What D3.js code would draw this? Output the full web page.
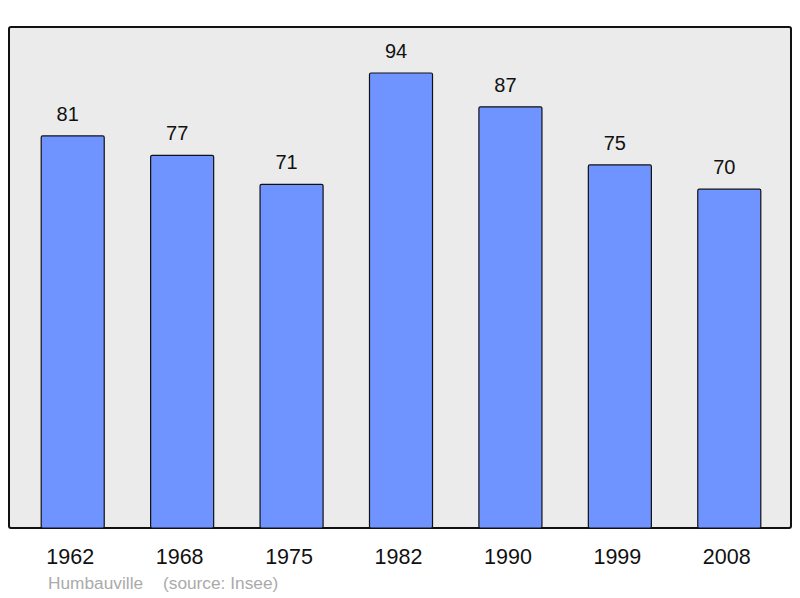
<!DOCTYPE html>
<html>
<head>
<meta charset="utf-8">
<script src="https://cdn.jsdelivr.net/npm/d3@7"></script>
<style>
  body { margin: 0; background: #fff; }
  svg { display: block; font-family: "Liberation Sans", Arial, sans-serif; }
</style>
</head>
<body>
<div id="chart"></div>
<script>
// data
var years = ["1962", "1968", "1975", "1982", "1990", "1999", "2008"];
var population = [81, 77, 71, 94, 87, 75, 70];
var townName = "Humbauville";
var sourceText = "(source: Insee)";

var width = 800, height = 598;

var svg = d3.select("#chart")
  .append("svg")
  .attr("width", width)
  .attr("height", height);

// frame of the plot
svg.append("rect")
  .attr("x", 9)
  .attr("y", 27)
  .attr("width", 782)
  .attr("height", 501)
  .attr("rx", 2)
  .style("fill", "#ebebeb")
  .style("stroke", "#111")
  .style("stroke-width", 2);

// scales
var x = d3.scaleBand()
  .domain(years)
  .range([18, 784])
  .paddingInner(0.424)
  .paddingOuter(0.212);

var y = d3.scaleLinear()
  .domain([0, 103.5])
  .range([528, 27]);

var rows = years.map(function (d, i) { return { year: d, value: population[i] }; });

// bars
svg.selectAll(".bar")
  .data(rows)
  .enter()
  .append("rect")
  .attr("class", "bar")
  .attr("x", function (d) { return x(d.year); })
  .attr("y", function (d) { return y(d.value); })
  .attr("width", x.bandwidth())
  .attr("height", function (d) { return y(0) - y(d.value); })
  .attr("rx", 1.5)
  .style("fill", "#7094ff")
  .style("stroke", "#111")
  .style("stroke-width", 1.2);

// value labels (sit a little left of the bar centre, as in the original)
svg.selectAll(".val")
  .data(rows)
  .enter()
  .append("text")
  .attr("class", "val")
  .attr("x", function (d) { return x(d.year) + x.bandwidth() / 2 - 5; })
  .attr("y", function (d) { return y(d.value) - 15; })
  .attr("text-anchor", "middle")
  .attr("font-size", 20)
  .attr("fill", "#111")
  .text(function (d) { return d.value; });

// x axis labels
var xAxis = svg.append("g")
  .attr("transform", "translate(-2.5,528)")
  .call(d3.axisBottom(x).tickSize(0).tickPadding(21));
xAxis.select(".domain").remove();
xAxis.selectAll("text")
  .attr("font-size", 21.5)
  .attr("font-family", "Liberation Sans, Arial, sans-serif")
  .attr("fill", "#111");

// footer
svg.append("text")
  .attr("x", 48)
  .attr("y", 589)
  .attr("font-size", 17.3)
  .attr("fill", "#aaa")
  .text(townName);
svg.append("text")
  .attr("x", 163)
  .attr("y", 589)
  .attr("font-size", 17.3)
  .attr("fill", "#aaa")
  .text(sourceText);
</script>
</body>
</html>
